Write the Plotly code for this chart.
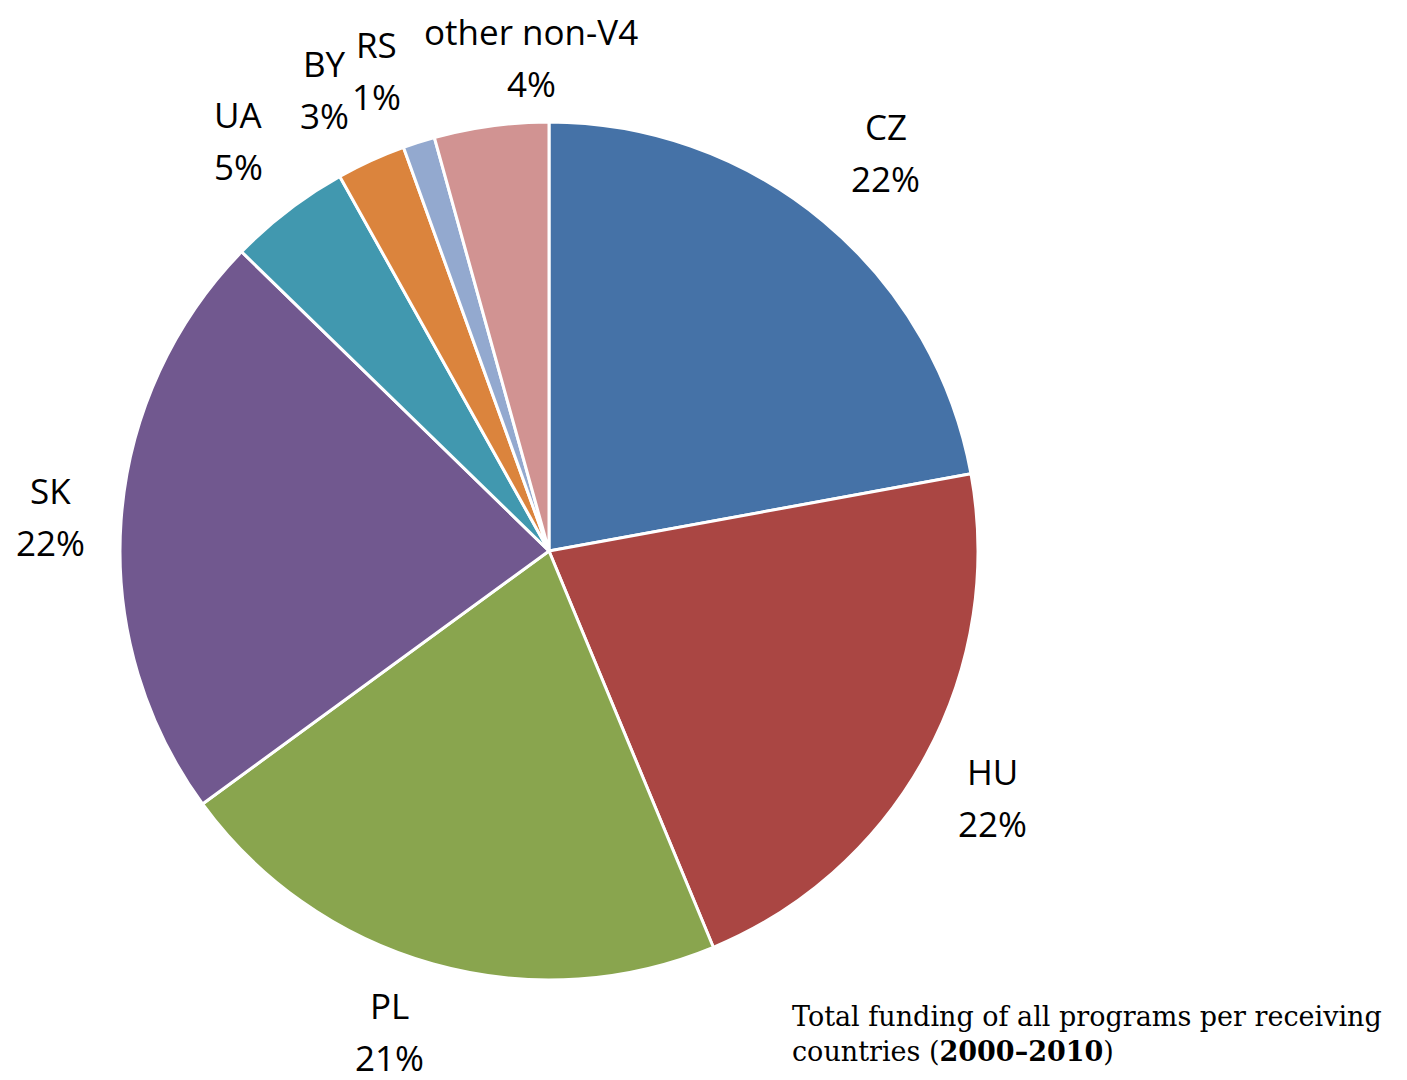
import math
import plotly.graph_objects as go

# ---- data ----
countries = ["CZ", "HU", "PL", "SK", "UA", "BY", "RS", "other non-V4"]
shares = [22.1, 21.6, 21.2, 22.3, 4.6, 2.6, 1.2, 4.3]
colors = ["#4572A7", "#AA4643", "#89A54E", "#71588F", "#4198AF", "#DB843D", "#93A9CF", "#D19392"]
caption = "Total funding of all programs per receiving<br>countries (<b>2000–2010</b>)"

# label nudges in pixels (dx right, dy down)
label_shift = [(10, -7), (-4, 3), (-22, -11), (10, 2), (0, -6), (-13, 3), (-18, 5), (51, 12)]

W, H = 1407, 1080
OFF = 8  # page body margin
cx, cy, R = 549 - OFF, 551 - OFF, 429
dom_x = [(cx - R) / W, (cx + R) / W]
dom_y = [1 - (cy + R) / H, 1 - (cy - R) / H]

fig = go.Figure(go.Pie(
    labels=countries, values=shares, sort=False, direction="clockwise", rotation=0,
    marker=dict(colors=colors, line=dict(color="white", width=3)),
    textinfo="none", hoverinfo="label+percent", showlegend=False,
    domain=dict(x=dom_x, y=dom_y),
))

total = sum(shares)
cum = 0
annotations = []
font = dict(family="Open Sans, Noto Sans, sans-serif", size=35, color="#000000")
for name, v, (sx, sy) in zip(countries, shares, label_shift):
    mid = (cum + v / 2) / total * 2 * math.pi
    cum += v
    rl = 510
    px = cx + rl * math.sin(mid) + sx
    py = cy - rl * math.cos(mid) + sy
    pct = f"{round(v / total * 100)}%"
    for txt, off in ((name, 26), (pct, -26)):
        annotations.append(dict(
            x=px / W, y=1 - py / H, xref="paper", yref="paper", text=txt,
            showarrow=False, xanchor="center", yanchor="middle", yshift=off,
            borderpad=0, font=font))

annotations.append(dict(
    x=(790 - OFF) / W, y=1 - (1034 - OFF) / H, xref="paper", yref="paper", text=caption, align="left",
    showarrow=False, xanchor="left", yanchor="middle",
    font=dict(family="DejaVu Serif, Liberation Serif, serif", size=27, color="#000000")))

fig.update_layout(
    width=W, height=H, margin=dict(l=0, r=0, t=0, b=0),
    paper_bgcolor="white", plot_bgcolor="white", annotations=annotations,
)
fig.write_html("out.html")
